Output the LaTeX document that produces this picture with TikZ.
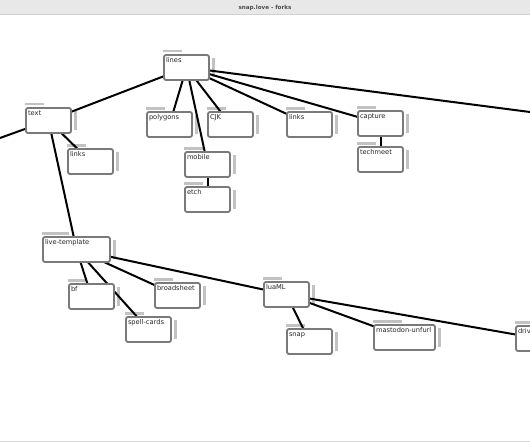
\documentclass[tikz,border=0pt]{standalone}
\usepackage{fontspec}
\setmainfont{DejaVu Sans}
\usetikzlibrary{backgrounds}

\begin{document}
\begin{tikzpicture}[
  x=0.75pt, y=-0.75pt,
  font=\fontsize{5}{6}\selectfont,
  fork/.style    = {rectangle, draw=black!52, line width=1.4pt, fill=white,
                    rounded corners=1.5pt, anchor=north west, outer sep=0pt,
                    inner xsep=1.5pt, inner ysep=2pt, text height=3.9pt,
                    text depth=10.85pt, align=left, text width=#1,
                    text=black!85},
  fork/.default  = 30.75pt,
  tab/.style     = {fill=black!24},
  tie/.style     = {line width=1.5pt, black},
  titlebar/.style= {fill=black!9}
]
\useasboundingbox (0,0) rectangle (530,442);

% ---------- window ----------
\fill[titlebar] (0,0) rectangle (530,15);
\draw[black!18, line width=0.75pt] (0,15) -- (530,15);
\node[font=\fontsize{4.2}{5}\selectfont\bfseries, text=black!70] (title)
  at (265,8) {snap.love - forks};
\draw[black!15, line width=0.75pt] (0,441) -- (530,441);

\begin{scope}
\clip (0,16) rectangle (530,440);

% ---------- forks ----------
\node[fork] (lines)      at (164,55)  {lines};
\node[fork] (text)       at (26,108)  {text};
\node[fork] (links1)     at (68,149)  {links};
\node[fork] (polygons)   at (147,112) {polygons};
\node[fork] (cjk)        at (208,112) {CJK};
\node[fork] (links2)     at (287,112) {links};
\node[fork] (capture)    at (358,111) {capture};
\node[fork] (techmeet)   at (358,147) {techmeet};
\node[fork] (mobile)     at (185,152) {mobile};
\node[fork] (etch)       at (185,187) {etch};
\node[fork=47.25pt] (live) at (43,237) {live-template};
\node[fork] (bf)         at (69,284)  {bf};
\node[fork] (broadsheet) at (155,283) {broadsheet};
\node[fork] (spell)      at (126,317) {spell-cards};
\node[fork] (luaml)      at (264,282) {luaML};
\node[fork] (snap)       at (287,329) {snap};
\node[fork=42.75pt] (masto) at (374,325) {mastodon-unfurl};
\node[fork] (driv)       at (516,326) {driv};

\coordinate (offleft)  at (0,138);
\coordinate (offright) at (530,112);

\begin{scope}[on background layer]
% ---------- tabs and side bars ----------
\foreach \n/\w in {lines/19, text/19, links1/19, polygons/19, cjk/19,
                   links2/19, capture/19, techmeet/19, mobile/19, etch/19,
                   live/27, bf/19, broadsheet/19, spell/19, luaml/19,
                   snap/19, masto/29, driv/19} {
  \fill[tab] ([xshift=-0.75pt, yshift=3.75pt]\n.north west) rectangle ++(\w,2.5);
  \fill[tab] ([xshift=2.25pt, yshift=-2.25pt]\n.north east)
    rectangle ([xshift=4.5pt, yshift=2.25pt]\n.south east);
}

% ---------- links between forks ----------
\foreach \a/\b in {lines/text, lines/polygons, lines/mobile, lines/cjk,
                   lines/links2, lines/capture, lines/offright,
                   text/offleft, text/links1, text/live,
                   capture/techmeet, mobile/etch,
                   live/bf, live/spell, live/broadsheet, live/luaml,
                   luaml/snap, luaml/masto, luaml/driv}
  \draw[tie] (\a) -- (\b);
\end{scope}
\end{scope}

\end{tikzpicture}
\end{document}
